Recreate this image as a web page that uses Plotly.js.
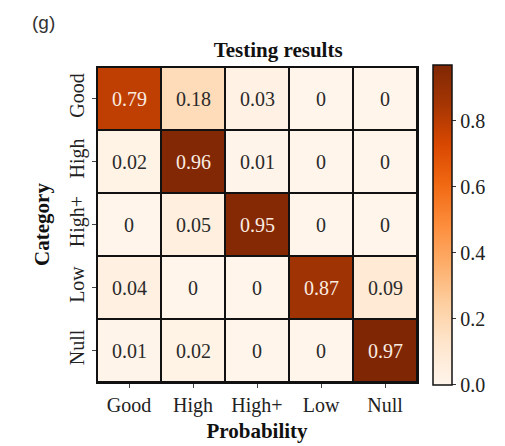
<!DOCTYPE html>
<html>
<head>
<meta charset="utf-8">
<script src="https://cdn.plot.ly/plotly-3.0.1.min.js"></script>
<style>
  html, body { margin: 0; padding: 0; background: #ffffff; }
  #chart { width: 505px; height: 446px; }
</style>
</head>
<body>
<div id="chart"></div>
<script>
// Predicted classes (columns) and true categories (rows)
const predictedLabels = ["Good", "High", "High+", "Low", "Null"];
const trueLabels = ["Good", "High", "High+", "Low", "Null"];

// Normalised confusion matrix, one row per true category
const rowGood  = [0.79, 0.18, 0.03, 0, 0];
const rowHigh  = [0.02, 0.96, 0.01, 0, 0];
const rowHighP = [0, 0.05, 0.95, 0, 0];
const rowLow   = [0.04, 0, 0, 0.87, 0.09];
const rowNull  = [0.01, 0.02, 0, 0, 0.97];

const colorbarTicks = [0.0, 0.2, 0.4, 0.6, 0.8];

const matrix = [rowGood, rowHigh, rowHighP, rowLow, rowNull];
const zMax = Math.max(...matrix.flat());

// Sequential orange scale (light cream to dark brown)
const orangeScale = [
  [0.0,   "#fff5eb"],
  [0.125, "#fee6ce"],
  [0.25,  "#fdd0a2"],
  [0.375, "#fdae6b"],
  [0.5,   "#fd8d3c"],
  [0.625, "#f16913"],
  [0.75,  "#d94801"],
  [0.875, "#a63603"],
  [1.0,   "#7f2704"]
];

const serif = "Liberation Serif, Times New Roman, serif";

// Cell value labels: light text on dark cells, dark text on light cells
const cellLabels = [];
matrix.forEach((row, r) => {
  row.forEach((v, c) => {
    cellLabels.push({
      x: predictedLabels[c],
      y: trueLabels[r],
      xref: "x",
      yref: "y",
      text: String(v),
      showarrow: false,
      font: { family: serif, size: 20, color: v > 0.5 ? "#fbece2" : "#2a2a2a" }
    });
  });
});

// Panel tag in the top-left corner
cellLabels.push({
  xref: "paper", yref: "paper",
  x: -0.21, y: 1.14,
  xanchor: "left", yanchor: "middle",
  text: "(g)", showarrow: false,
  font: { family: "Liberation Sans, Arial, sans-serif", size: 19, color: "#333333" }
});

const trace = {
  type: "heatmap",
  x: predictedLabels,
  y: trueLabels,
  z: matrix,
  zmin: 0,
  zmax: zMax,
  colorscale: orangeScale,
  xgap: 2,
  ygap: 2,
  hoverinfo: "skip",
  colorbar: {
    x: 1.05,
    xanchor: "left",
    y: 0.5,
    yanchor: "middle",
    thickness: 19,
    thicknessmode: "pixels",
    len: 320,
    lenmode: "pixels",
    outlinewidth: 1.5,
    outlinecolor: "#111111",
    tickvals: colorbarTicks,
    ticktext: colorbarTicks.map(t => t.toFixed(1)),
    ticks: "outside",
    ticklen: 4,
    tickcolor: "#333333",
    tickfont: { family: serif, size: 20, color: "#222222" },
    xpad: 0,
    ypad: 0
  }
};

const layout = {
  width: 505,
  height: 446,
  margin: { l: 97, r: 88, t: 67, b: 64 },
  paper_bgcolor: "#ffffff",
  plot_bgcolor: "#111111",
  title: {
    text: "<b>Testing results</b>",
    font: { family: serif, size: 21, color: "#111111" },
    xref: "paper",
    x: 0.566,
    xanchor: "center",
    yref: "container",
    y: 0.888,
    yanchor: "middle"
  },
  xaxis: {
    type: "category",
    showline: true,
    mirror: true,
    linecolor: "#111111",
    linewidth: 1.5,
    showgrid: false,
    zeroline: false,
    ticks: "outside",
    ticklen: 4,
    tickcolor: "#444444",
    tickfont: { family: serif, size: 20, color: "#222222" },
    title: {
      text: "<b>Probability</b>",
      font: { family: serif, size: 21, color: "#111111" },
      standoff: 8
    }
  },
  yaxis: {
    type: "category",
    autorange: "reversed",
    showline: true,
    mirror: true,
    linecolor: "#111111",
    linewidth: 1.5,
    showgrid: false,
    zeroline: false,
    ticks: "outside",
    ticklen: 4,
    tickcolor: "#444444",
    tickangle: -90,
    tickfont: { family: serif, size: 20, color: "#222222" },
    title: {
      text: "<b>Category</b>",
      font: { family: serif, size: 21, color: "#111111" },
      standoff: 10
    }
  },
  annotations: cellLabels,
  showlegend: false
};

Plotly.newPlot("chart", [trace], layout, { displayModeBar: false, staticPlot: true });
</script>
</body>
</html>
